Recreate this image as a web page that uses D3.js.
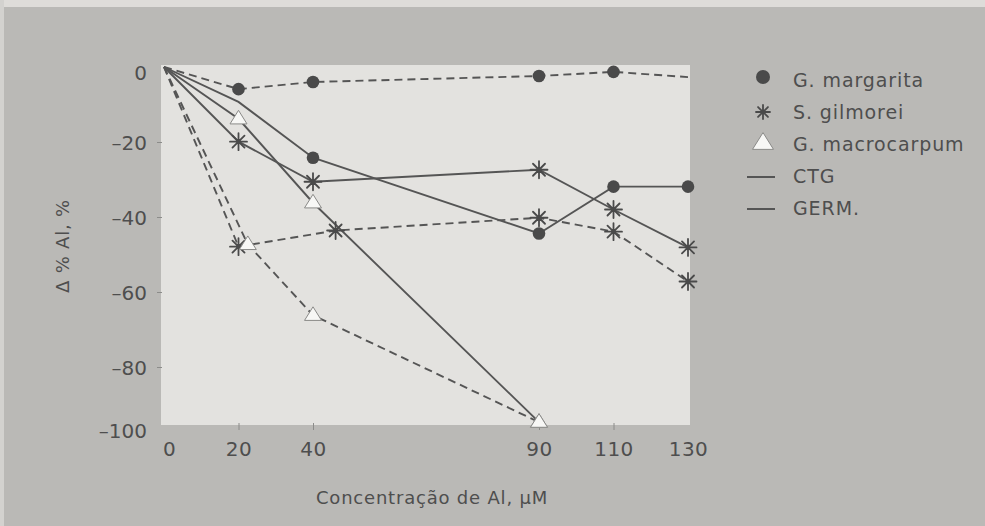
<!DOCTYPE html>
<html><head><meta charset="utf-8">
<script src="https://cdn.jsdelivr.net/npm/d3@7"></script>
<style>
html,body{margin:0;padding:0;background:#bab9b6;}
svg{display:block;}
text{font-family:"DejaVu Sans",sans-serif;fill:#4e4e4e;}
</style></head>
<body>
<svg id="c" width="985" height="526"></svg>
<script>
// ---- data ----
const concentrations = [0, 20, 40, 90, 110, 130];
const xTickLabels = ["0", "20", "40", "90", "110", "130"];
const yTicks = [0, -20, -40, -60, -80, -100];
const yTickLabels = ["0", "–20", "–40", "–60", "–80", "–100"];

// G. margarita
const margaritaCTG_x = [0, 20, 40, 90, 110, 130];
const margaritaCTG_y = [0, -9.3, -24.2, -44.4, -31.9, -31.9];
const margaritaCTG_mark = [0, 0, 1, 1, 1, 1];
const margaritaGERM_x = [0, 20, 40, 90, 110, 130];
const margaritaGERM_y = [0, -5.9, -4.0, -2.4, -1.3, -2.7];
const margaritaGERM_mark = [0, 1, 1, 1, 1, 0];
// S. gilmorei
const gilmoreiCTG_x = [0, 20, 40, 90, 110, 130];
const gilmoreiCTG_y = [0, -19.9, -30.6, -27.4, -38.0, -48.1];
const gilmoreiCTG_mark = [0, 1, 1, 1, 1, 1];
const gilmoreiGERM_x = [0, 20, 45, 90, 110, 130];
const gilmoreiGERM_y = [0, -47.9, -43.6, -40.2, -43.9, -57.2];
const gilmoreiGERM_mark = [0, 1, 1, 1, 1, 1];
// G. macrocarpum
const macroCTG_x = [0, 20, 40, 90];
const macroCTG_y = [0, -13.8, -36.2, -97.5];
const macroCTG_mark = [0, 1, 1, 1];
const macroGERM_x = [0, 22.5, 40, 90];
const macroGERM_y = [0, -47.3, -66.2, -97.5];
const macroGERM_mark = [0, 1, 1, 1];

const legendSpecies = ["G. margarita", "S. gilmorei", "G. macrocarpum"];
const legendTypes = ["CTG", "GERM."];
const xTitle = "Concentração de Al, µM";
const yTitle = "Δ % Al, %";

// ---- drawing ----
const svg = d3.select("#c");
const ink = "#4f4f4f";

// backdrop strips
svg.append("rect").attr("x",0).attr("y",0).attr("width",985).attr("height",526).attr("fill","#bab9b6");
svg.append("rect").attr("x",0).attr("y",0).attr("width",985).attr("height",7).attr("fill","#dedcd9");
svg.append("rect").attr("x",0).attr("y",0).attr("width",4).attr("height",526).attr("fill","#d3d2cf");

// plot panel
const panel = {x0:161, y0:65, x1:690, y1:425};
svg.append("rect").attr("x",panel.x0).attr("y",panel.y0)
  .attr("width",panel.x1-panel.x0).attr("height",panel.y1-panel.y0).attr("fill","#e3e2df");

// scales (broken axes, as in the original)
const x = d3.scaleLinear().domain([0, 40, 90, 130]).range([164, 313, 539, 688]);
const y = d3.scaleLinear().domain([0, -80, -100]).range([67, 367, 430]);

// y axis
const yAxis = svg.append("g").attr("transform",`translate(${panel.x0},0)`)
  .call(d3.axisLeft(y).tickValues(yTicks).tickSize(5).tickPadding(10)
    .tickFormat((d,i)=>yTickLabels[i]));
yAxis.select(".domain").remove();
yAxis.selectAll(".tick line").attr("stroke","#8c8c8a").attr("x1",-4).attr("x2",1)
  .attr("opacity",(d)=> (d===0||d===-100)?0:1);
yAxis.selectAll(".tick text").attr("font-size",20).attr("fill",ink)
  .attr("font-family","DejaVu Sans").attr("x",-14).attr("dy","0.36em");
yAxis.selectAll(".tick").filter(d=>d===0).select("text").attr("dy","0.6em");

// x axis
const xAxis = svg.append("g").attr("transform",`translate(0,${panel.y1})`)
  .call(d3.axisBottom(x).tickValues(concentrations).tickSize(5).tickPadding(12)
    .tickFormat((d,i)=>xTickLabels[i]));
xAxis.select(".domain").remove();
xAxis.selectAll(".tick line").attr("stroke","#8c8c8a").attr("y1",-2).attr("y2",5)
  .attr("opacity",(d)=> (d===0||d===130)?0:1);
xAxis.selectAll(".tick text").attr("font-size",20).attr("fill",ink)
  .attr("font-family","DejaVu Sans").attr("letter-spacing","0.5px");
xAxis.selectAll(".tick").filter(d=>d===0).select("text").attr("x",5);

// titles
svg.append("text").attr("x",432).attr("y",504).attr("text-anchor","middle")
  .attr("font-size",18).attr("letter-spacing","0.8px").text(xTitle);
svg.append("text").attr("transform","translate(69,246) rotate(-90)").attr("text-anchor","middle")
  .attr("font-size",18).attr("letter-spacing","0.8px").text(yTitle);

// marker painters
function circleMark(g, cx, cy, r){
  g.append("circle").attr("cx",cx).attr("cy",cy).attr("r",r).attr("fill","#4a4a4a");
}
function starMark(g, cx, cy, r){
  const p = d3.path();
  for(let k=0;k<4;k++){
    const a = k*Math.PI/4;
    p.moveTo(cx - r*Math.cos(a), cy - r*Math.sin(a));
    p.lineTo(cx + r*Math.cos(a), cy + r*Math.sin(a));
  }
  g.append("path").attr("d",p.toString()).attr("stroke","#4a4a4a").attr("stroke-width",1.8)
    .attr("stroke-linecap","round").attr("fill","none");
}
function triMark(g, cx, cy, s){
  const h = s*0.8;
  const pts = [[cx, cy - h*0.62],[cx - s/2, cy + h*0.38],[cx + s/2, cy + h*0.38]];
  g.append("path").attr("d", d3.line()(pts)+"Z")
    .attr("fill","#f7f7f5").attr("stroke","#8a8a88").attr("stroke-width",1);
}

const series = [
  {xs:margaritaCTG_x, ys:margaritaCTG_y, mk:margaritaCTG_mark, dash:false, m:"circle"},
  {xs:margaritaGERM_x, ys:margaritaGERM_y, mk:margaritaGERM_mark, dash:true, m:"circle"},
  {xs:gilmoreiCTG_x, ys:gilmoreiCTG_y, mk:gilmoreiCTG_mark, dash:false, m:"star"},
  {xs:gilmoreiGERM_x, ys:gilmoreiGERM_y, mk:gilmoreiGERM_mark, dash:true, m:"star"},
  {xs:macroCTG_x, ys:macroCTG_y, mk:macroCTG_mark, dash:false, m:"tri"},
  {xs:macroGERM_x, ys:macroGERM_y, mk:macroGERM_mark, dash:true, m:"tri"}
];

const line = d3.line().x(d=>x(d[0])).y(d=>y(d[1]));
const linesG = svg.append("g");
series.forEach(s=>{
  const pts = s.xs.map((v,i)=>[v, s.ys[i]]);
  linesG.append("path").attr("d",line(pts)).attr("fill","none")
    .attr("stroke","#555").attr("stroke-width",1.9)
    .attr("stroke-dasharray", s.dash ? "8,5" : null);
});
const marksG = svg.append("g");
series.forEach(s=>{
  s.xs.forEach((v,i)=>{
    if(!s.mk[i]) return;
    const cx = x(v), cy = y(s.ys[i]);
    if(s.m==="circle") circleMark(marksG,cx,cy,6.3);
    else if(s.m==="star") starMark(marksG,cx,cy,8.5);
    else triMark(marksG,cx,cy,17);
  });
});

// legend
const lg = svg.append("g");
const rowY = [80, 112, 144, 176, 208];
const labels = legendSpecies.concat(legendTypes);
labels.forEach((t,i)=>{
  lg.append("text").attr("x",793).attr("y",rowY[i]).attr("dy","0.36em")
    .attr("font-size",19).attr("letter-spacing","0.9px").text(t);
});
circleMark(lg, 763, rowY[0]-3, 7);
starMark(lg, 763, rowY[1], 7);
triMark(lg, 763, rowY[2]-1, 21);
[3,4].forEach(i=>{
  lg.append("line").attr("x1",747).attr("x2",775).attr("y1",rowY[i]+1).attr("y2",rowY[i]+1)
    .attr("stroke","#555").attr("stroke-width",2);
});
</script>
</body></html>
